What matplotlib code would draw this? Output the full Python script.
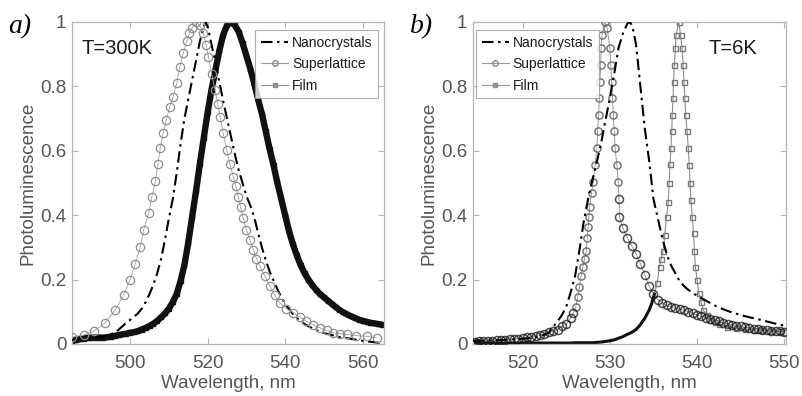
import numpy as np
import matplotlib
matplotlib.use("Agg")
import matplotlib.pyplot as plt
from matplotlib.lines import Line2D

plt.rcParams['font.family'] = ['Liberation Sans', 'DejaVu Sans']

# ---------------- Panel a (T=300K) ----------------
a_nc_x = [485, 487, 489, 491, 493, 495, 496, 497, 498, 499, 500, 501, 502, 503, 504, 505,
          506, 507, 508, 509, 510, 511, 512, 513, 514, 515, 516, 517, 518, 519, 519.5,
          520, 521, 522, 523, 524, 525, 526, 527, 528, 529, 530, 531, 532, 533, 534, 535,
          536, 537, 538, 539, 540, 541, 542, 543, 544, 545, 546, 547, 548, 549, 550,
          552, 554, 556, 558, 560, 562, 564, 565]
a_nc_y = [0.013, 0.015, 0.017, 0.020, 0.023, 0.030, 0.036, 0.044, 0.055, 0.066, 0.075, 0.085,
          0.095, 0.110, 0.130, 0.155, 0.185, 0.220, 0.265, 0.325, 0.390, 0.450, 0.530, 0.620,
          0.700, 0.760, 0.820, 0.880, 0.940, 0.985, 1.000,
          0.985, 0.930, 0.875, 0.815, 0.755, 0.700, 0.645, 0.590, 0.540, 0.500, 0.460, 0.430,
          0.395, 0.345, 0.300, 0.260, 0.225, 0.197, 0.170, 0.145, 0.125, 0.108, 0.093, 0.081,
          0.071, 0.062, 0.055, 0.049, 0.043, 0.038, 0.034,
          0.028, 0.022, 0.018, 0.014, 0.010, 0.007, 0.004, 0.003]

a_sl_x = [485, 488, 490.6, 493.6, 496.2, 498.3, 500, 501.3, 502.6, 503.5, 504.8, 505.6, 506.5,
          507.2, 507.8, 508.5, 509.3, 510.2, 511.1, 512, 512.8, 513.7, 514.6, 515.3, 515.9,
          516.9, 517.9, 518.9, 519.6, 520.2, 521, 521.9, 522.6, 523.2, 524, 524.9, 525.7,
          526.6, 527.3, 527.9, 528.5, 529.2, 530.0, 530.9, 531.8, 532.6, 533.5, 534.8, 536.1,
          537.3, 538.6, 540.3, 542.1, 543.8, 545.5, 547.2, 549.0, 550.7, 552.4, 554.2, 555.9,
          558.4, 561.0, 563.6]
a_sl_y = [0.022, 0.028, 0.040, 0.066, 0.107, 0.153, 0.200, 0.250, 0.300, 0.355, 0.407, 0.458,
          0.505, 0.560, 0.610, 0.655, 0.695, 0.735, 0.768, 0.810, 0.860, 0.903, 0.940, 0.965,
          0.980, 1.000, 0.990, 0.965, 0.930, 0.892, 0.840, 0.790, 0.745, 0.706, 0.655, 0.603,
          0.560, 0.520, 0.490, 0.455, 0.425, 0.390, 0.355, 0.323, 0.293, 0.265, 0.241, 0.210,
          0.179, 0.152, 0.128, 0.110, 0.097, 0.083, 0.071, 0.060, 0.050, 0.042, 0.035, 0.032,
          0.030, 0.026, 0.024, 0.019]

a_film_x = [485, 486, 487, 488, 489, 490, 491, 492, 493, 494, 495, 496, 497, 498, 499, 500,
            501, 502, 503, 504, 505, 506, 507, 508, 509, 510, 511, 512, 513, 514, 515, 516,
            517, 518, 519, 520, 521, 522, 523, 524, 525, 526, 527, 528, 529, 530, 531, 532,
            533, 534, 535, 536, 537, 538, 539, 540, 541, 542, 543, 544, 545, 546, 547, 548,
            549, 550, 551, 552, 553, 554, 555, 556, 557, 558, 559, 560, 561, 562, 563, 564, 565]
a_film_y = [0.010, 0.012, 0.015, 0.017, 0.019, 0.020, 0.020, 0.020, 0.020, 0.021, 0.023, 0.025,
            0.028, 0.030, 0.032, 0.035, 0.037, 0.040, 0.045, 0.050, 0.056, 0.063, 0.072, 0.083,
            0.095, 0.110, 0.130, 0.155, 0.195, 0.245, 0.315, 0.395, 0.475, 0.560, 0.640, 0.720,
            0.790, 0.850, 0.910, 0.960, 0.990, 1.000, 0.990, 0.970, 0.935, 0.895, 0.855, 0.810,
            0.760, 0.715, 0.660, 0.605, 0.555, 0.500, 0.450, 0.400, 0.350, 0.310, 0.275, 0.245,
            0.220, 0.200, 0.183, 0.168, 0.155, 0.145, 0.135, 0.125, 0.115, 0.106, 0.098, 0.092,
            0.086, 0.081, 0.076, 0.072, 0.069, 0.066, 0.064, 0.062, 0.060]

# ---------------- Panel b (T=6K) ----------------
b_nc_x = [514.3, 516, 518, 520, 521, 522, 523, 523.5, 524, 524.5, 525, 525.5, 526, 526.5, 527,
          527.5, 528, 528.5, 529, 529.5, 530, 530.5, 531, 531.5, 532, 532.3, 532.6, 533, 533.5,
          534, 534.5, 535, 535.5, 536, 536.5, 537, 537.5, 538, 538.5, 539, 540, 541, 542, 543,
          544, 545, 546, 547, 548, 549, 550]
b_nc_y = [0.010, 0.011, 0.013, 0.016, 0.019, 0.023, 0.035, 0.054, 0.070, 0.090, 0.116, 0.160,
          0.210, 0.290, 0.380, 0.450, 0.510, 0.565, 0.625, 0.695, 0.765, 0.840, 0.920, 0.965,
          0.995, 1.000, 0.985, 0.930, 0.800, 0.670, 0.570, 0.450, 0.390, 0.330, 0.280, 0.245,
          0.220, 0.195, 0.180, 0.168, 0.150, 0.135, 0.120, 0.108, 0.098, 0.090, 0.083, 0.077,
          0.070, 0.063, 0.057]

b_sl_x = [514.5, 515, 515.5, 516, 516.5, 517, 517.5, 518, 518.5, 519, 519.5, 520, 520.5, 521,
          521.5, 522, 522.5, 523, 523.5, 524, 524.5, 525, 525.5, 525.8, 526.1, 526.3, 526.5,
          526.7, 526.9, 527.1, 527.3, 527.4, 527.5, 527.6, 527.7, 527.9, 528.1, 528.3, 528.5,
          528.6, 528.7, 528.8, 528.85, 528.95, 529.0, 529.1, 529.4, 529.7, 530.0, 530.1, 530.2,
          530.3, 530.4, 530.5, 530.6, 530.8, 530.95, 531.05, 531.1, 531.5, 532, 532.5, 533,
          533.5, 534, 534.5, 535, 535.5, 536, 536.5, 537, 537.5, 538, 538.5, 539, 539.5, 540,
          540.5, 541, 541.5, 542, 542.5, 543, 543.5, 544, 544.5, 545, 545.5, 546, 546.5, 547,
          547.5, 548, 548.5, 549, 549.5, 550]
b_sl_y = [0.007, 0.008, 0.009, 0.010, 0.010, 0.011, 0.012, 0.013, 0.014, 0.015, 0.017, 0.019,
          0.021, 0.023, 0.026, 0.028, 0.032, 0.036, 0.040, 0.045, 0.055, 0.063, 0.080, 0.095,
          0.116, 0.145, 0.178, 0.210, 0.240, 0.265, 0.290, 0.330, 0.364, 0.395, 0.426, 0.470,
          0.504, 0.556, 0.608, 0.660, 0.711, 0.763, 0.815, 0.866, 0.918, 0.960, 1.000, 0.980,
          0.918, 0.866, 0.815, 0.763, 0.711, 0.660, 0.608, 0.556, 0.504, 0.450, 0.395, 0.360,
          0.330, 0.305, 0.280, 0.250, 0.215, 0.180, 0.155, 0.138, 0.127, 0.120, 0.115, 0.111,
          0.108, 0.105, 0.100, 0.095, 0.090, 0.086, 0.082, 0.078, 0.074, 0.070, 0.066, 0.063,
          0.060, 0.057, 0.055, 0.052, 0.050, 0.048, 0.046, 0.044, 0.042, 0.041, 0.040, 0.039,
          0.038]

b_film_x = [514.5, 515, 515.5, 516, 516.5, 517, 517.5, 518, 518.5, 519, 519.5, 520, 520.5, 521,
            521.5, 522, 522.5, 523, 523.5, 524, 524.5, 525, 525.5, 526, 526.5, 527, 527.5, 528,
            528.5, 529, 529.5, 530, 530.5, 531, 531.5, 532, 532.5, 533, 533.5, 534, 534.5, 534.8,
            535.1, 535.4, 535.7, 535.9, 536.1, 536.3, 536.5, 536.7, 536.8, 536.9, 537.0, 537.1,
            537.15, 537.25, 537.3, 537.4, 537.5, 537.6, 537.9, 538.1, 538.3, 538.4, 538.5, 538.6,
            538.7, 538.85, 539.0, 539.1, 539.2, 539.3, 539.45, 539.6, 539.7, 539.8, 540.0, 540.2,
            540.45, 540.7, 541.1, 541.5, 542, 542.5, 543.4, 544.5, 545.5, 546.5, 547.5, 548.5,
            549.5, 550]
b_film_y = [0.004, 0.003, 0.003, 0.003, 0.003, 0.003, 0.003, 0.003, 0.003, 0.003, 0.003, 0.003,
            0.003, 0.003, 0.003, 0.003, 0.003, 0.003, 0.003, 0.003, 0.003, 0.003, 0.003, 0.004,
            0.004, 0.004, 0.004, 0.004, 0.005, 0.006, 0.008, 0.010, 0.013, 0.018, 0.023, 0.030,
            0.036, 0.045, 0.060, 0.080, 0.105, 0.126, 0.155, 0.188, 0.240, 0.265, 0.290, 0.340,
            0.395, 0.440, 0.500, 0.560, 0.608, 0.660, 0.711, 0.763, 0.815, 0.866, 0.918, 0.960,
            1.000, 0.960, 0.918, 0.866, 0.815, 0.763, 0.711, 0.660, 0.608, 0.556, 0.500, 0.447,
            0.395, 0.344, 0.290, 0.240, 0.200, 0.157, 0.130, 0.106, 0.090, 0.075, 0.067, 0.061,
            0.054, 0.049, 0.046, 0.044, 0.042, 0.040, 0.039, 0.038]

series_labels = ["Nanocrystals", "Superlattice", "Film"]
y_ticks = [0, 0.2, 0.4, 0.6, 0.8, 1]
y_ticklabels = ["0", "0.2", "0.4", "0.6", "0.8", "1"]
a_xticks = [500, 520, 540, 560]
b_xticks = [520, 530, 540, 550]

# ---------------- Figure ----------------
W, H = 803, 396
fig = plt.figure(figsize=(W / 100, H / 100), dpi=100)

def px_axes(l, t, r, b):
    return fig.add_axes([l / W, 1 - b / H, (r - l) / W, (b - t) / H])

ax_a = px_axes(72, 22, 384, 344)
ax_b = px_axes(473, 22, 786, 344)

spine_c = '#b4b4b4'
tick_c = '#555555'
dashdot = (0, (5.5, 2.2, 1.2, 2.2))

def style(ax, xlim, xticks):
    ax.set_xlim(*xlim)
    ax.set_ylim(0, 1)
    ax.set_xticks(xticks)
    ax.set_yticks(y_ticks)
    ax.set_yticklabels(y_ticklabels)
    for s in ax.spines.values():
        s.set_color(spine_c)
        s.set_linewidth(0.9)
    ax.tick_params(direction='in', length=4, width=0.8, color=spine_c,
                   top=True, right=True, labelsize=13.5, labelcolor=tick_c)
    ax.tick_params(axis='x', pad=8)
    ax.tick_params(axis='y', pad=4)
    ax.set_xlabel("Wavelength, nm", fontsize=13.5, color=tick_c, labelpad=2)
    ax.set_ylabel("Photoluminescence", fontsize=13.5, color=tick_c, labelpad=3)

# Panel a
ax = ax_a
ax.plot(a_film_x, a_film_y, color='#111111', lw=4.6, solid_joinstyle='round',
        solid_capstyle='round', marker='s', ms=3.5, mfc='#111111', mec='#111111',
        label=series_labels[2], zorder=2)
ax.plot(a_nc_x, a_nc_y, color='black', lw=1.5, ls=dashdot, label=series_labels[0], zorder=3)
ax.plot(a_sl_x, a_sl_y, color='#a0a0a0', lw=0.6, marker='o', ms=6, mfc='none',
        mec='#8e8e8e', mew=0.9, label=series_labels[1], zorder=4)
style(ax, (485, 565.5), a_xticks)
ax.text(0.032, 0.919, "T=300K", transform=ax.transAxes, fontsize=14.5, color='#1a1a1a',
        va='center', ha='left')

# Panel b
ax = ax_b
bsx = np.array(b_sl_x)
bsy = np.array(b_sl_y)
bfx = np.array(b_film_x)
bfy = np.array(b_film_y)
sl_tail = (bsx < 526.0) | (bsx > 531.0)
film_flat = bfx <= 535.1

ax.plot(b_nc_x, b_nc_y, color='black', lw=1.5, ls=dashdot, label=series_labels[0], zorder=4)
# superlattice: thin gray line, gray circles on steep part, dense dark circles on tails
ax.plot(bsx, bsy, color='#8c8c8c', lw=0.6, ls='-', zorder=2)
ax.plot(bsx[~sl_tail], bsy[~sl_tail], ls='none', marker='o', ms=5.2, mfc='none',
        mec='#6e6e6e', mew=1.0, zorder=3)
ax.plot(bsx[sl_tail], bsy[sl_tail], ls='none', marker='o', ms=5.8, mfc='none',
        mec=(0.08, 0.08, 0.08, 0.75), mew=1.1, zorder=3)
# film: gray squares, dark dense flat part
ax.plot(bfx, bfy, color='#8c8c8c', lw=0.8, ls='-', zorder=2)
ax.plot(bfx[film_flat], bfy[film_flat], color='#111111', lw=2.2, ls='-', zorder=2)
ax.plot(bfx[~film_flat], bfy[~film_flat], ls='none', marker='s', ms=3.6, mfc='none',
        mec='#7a7a7a', mew=1.0, zorder=2)
style(ax, (514.3, 550.2), b_xticks)
ax.text(0.751, 0.919, "T=6K", transform=ax.transAxes, fontsize=14.5, color='#1a1a1a',
        va='center', ha='left')

# legend proxies (same for both panels)
handles = [
    Line2D([], [], color='black', lw=1.5, ls=dashdot),
    Line2D([], [], color='#9a9a9a', lw=0.8, marker='o', ms=4, mfc='none', mec='#8a8a8a'),
    Line2D([], [], color='#9a9a9a', lw=0.8, marker='s', ms=3, mfc='#9a9a9a', mec='#8a8a8a'),
]

def add_legend(ax, loc, anchor):
    leg = ax.legend(handles, series_labels, loc=loc, bbox_to_anchor=anchor,
                    borderaxespad=0, fontsize=10, frameon=True, fancybox=False,
                    handlelength=2.0, handletextpad=0.25, labelspacing=0.55,
                    borderpad=0.4)
    leg.get_frame().set_edgecolor('#9a9a9a')
    leg.get_frame().set_linewidth(0.8)
    for t in leg.get_texts():
        t.set_color('#1a1a1a')

add_legend(ax_a, 'upper right', (1 - 6 / 312, 1 - 8 / 322))
add_legend(ax_b, 'upper left', (3 / 313, 1 - 8 / 322))

# panel letters
fig.text(8 / W, 1 - 27 / H, "a)", fontsize=20, style='italic',
         family=['Liberation Serif', 'DejaVu Serif'], va='center', ha='left')
fig.text(410 / W, 1 - 27 / H, "b)", fontsize=20, style='italic',
         family=['Liberation Serif', 'DejaVu Serif'], va='center', ha='left')

fig.savefig("out.png", dpi=100)
